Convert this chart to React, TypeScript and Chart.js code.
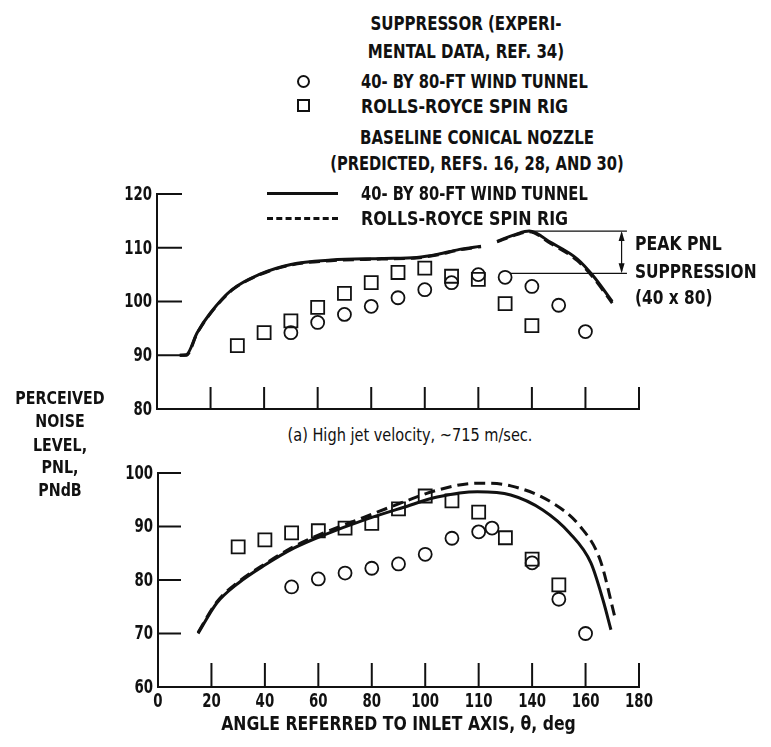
import React, { useEffect, useRef } from "react";
import { Chart, registerables } from "chart.js";

Chart.register(...registerables);

const FONT = "'Liberation Sans Narrow', 'DejaVu Sans Condensed', 'Arial Narrow', sans-serif";
const INK = "#111111";

// ---- axes ----
const angleTicks = [0, 20, 40, 60, 80, 100, 120, 140, 160, 180];
const angleTickLabels = ["0", "20", "40", "60", "80", "100", "110", "140", "160", "180"];
const angleTitle = "ANGLE REFERRED TO INLET AXIS, θ, deg";

// ---- (a) high jet velocity ----
const topCircleAngles = [50, 60, 70, 80, 90, 100, 110, 120, 130, 140, 150, 160];
const topCircleValues = [94.2, 96.1, 97.6, 99.1, 100.7, 102.2, 103.5, 105.0, 104.5, 102.8, 99.3, 94.4];

const topSquareAngles = [30, 40, 50, 60, 70, 80, 90, 100, 110, 120, 130, 140];
const topSquareValues = [91.8, 94.2, 96.4, 98.9, 101.5, 103.5, 105.4, 106.2, 104.7, 104.1, 99.6, 95.5];

const topSolidAngles = [8.5, 11, 15, 20, 28, 38, 50, 65, 84, 97, 105, 113, 121, 124, 127, 134, 139, 147, 157, 163, 170];
const topSolidValues = [90, 90.1, 94.2, 97.9, 102.2, 105.0, 106.9, 107.7, 108.0, 108.2, 108.8, 109.7, 110.3, null, 111.2, 112.5, 113.1, 111.0, 107.9, 104.7, 100.0];

const topDashedAngles = [8.5, 11, 15, 20, 28, 38, 50, 65, 84, 97, 105, 113, 121, 124, 127, 134, 139, 147, 157, 163, 170];
const topDashedValues = [90, 90.0, 94.1, 97.8, 102.1, 104.9, 106.8, 107.6, 107.9, 108.1, 108.7, 109.6, 110.2, null, 111.1, 112.4, 113.0, 110.8, 107.6, 104.4, 99.7];

const peakValue = 113.1;
const suppressedPeakValue = 105.25;

// ---- lower panel ----
const botCircleAngles = [50, 60, 70, 80, 90, 100, 110, 120, 125, 140, 150, 160];
const botCircleValues = [78.7, 80.2, 81.3, 82.2, 83.0, 84.8, 87.8, 89.0, 89.7, 83.2, 76.4, 70.0];

const botSquareAngles = [30, 40, 50, 60, 70, 80, 90, 100, 110, 120, 130, 140, 150];
const botSquareValues = [86.2, 87.5, 88.8, 89.2, 89.7, 90.6, 93.3, 95.7, 94.8, 92.7, 87.9, 83.9, 79.1];

const botSolidAngles = [15, 22, 30, 40, 51, 62, 77, 92, 104.5, 119.5, 132, 144, 154, 162, 166.5, 169.5];
const botSolidValues = [70.0, 75.7, 79.4, 82.8, 86.0, 88.4, 91.2, 93.6, 95.5, 96.5, 95.9, 93.1, 88.8, 83.2, 76.3, 70.7];

const botDashedAngles = [15, 22, 30, 40, 51, 62, 77, 92, 104.5, 119.5, 132, 147, 158, 165.5, 171];
const botDashedValues = [70.2, 75.9, 79.6, 83.0, 86.3, 88.8, 91.7, 94.6, 96.8, 98.1, 97.6, 94.6, 90.0, 83.7, 73.0];

function pts(xs: number[], ys: (number | null)[]) {
  return xs.map((x, i) => ({ x, y: ys[i] }));
}

function inwardTicks(xLen: number, yLen: number) {
  return {
    id: "inwardTicks",
    afterDatasetsDraw(chart: any) {
      const { ctx, chartArea } = chart;
      const x = chart.scales.x;
      const y = chart.scales.y;
      ctx.save();
      ctx.strokeStyle = INK;
      ctx.lineWidth = 2;
      x.ticks.forEach((t: any) => {
        if (t.value === x.min) return;
        const px = x.getPixelForValue(t.value);
        ctx.beginPath();
        ctx.moveTo(px, chartArea.bottom);
        ctx.lineTo(px, chartArea.bottom - xLen);
        ctx.stroke();
      });
      y.ticks.forEach((t: any) => {
        if (t.value === y.min) return;
        const py = y.getPixelForValue(t.value);
        ctx.beginPath();
        ctx.moveTo(chartArea.left, py);
        ctx.lineTo(chartArea.left + yLen, py);
        ctx.stroke();
      });
      ctx.restore();
    },
  };
}

// draws the scale's tick labels (and x title) in a horizontally condensed face
function narrowLabels(showX: boolean) {
  return {
    id: "narrowLabels",
    afterDraw(chart: any) {
      const { ctx, chartArea } = chart;
      const x = chart.scales.x;
      const y = chart.scales.y;
      ctx.save();
      ctx.fillStyle = INK;
      ctx.font = "bold 19px " + FONT;
      ctx.textBaseline = "middle";
      y.ticks.forEach((t: any) => {
        const py = y.getPixelForValue(t.value);
        ctx.save();
        ctx.translate(chartArea.left - 5, py + 1);
        ctx.scale(0.78, 1);
        ctx.textAlign = "right";
        ctx.fillText(String(t.value), 0, 0);
        ctx.restore();
      });
      if (showX) {
        x.ticks.forEach((t: any) => {
          const i = angleTicks.indexOf(Number(t.value));
          if (i < 0) return;
          const px = x.getPixelForValue(t.value);
          ctx.save();
          ctx.translate(px, chartArea.bottom + 15);
          ctx.scale(0.78, 1);
          ctx.textAlign = "center";
          ctx.fillText(angleTickLabels[i], 0, 0);
          ctx.restore();
        });
        ctx.save();
        ctx.font = "bold 20px " + FONT;
        ctx.translate((x.left + x.right) / 2, chartArea.bottom + 38);
        ctx.scale(0.87, 1);
        ctx.textAlign = "center";
        ctx.fillText(angleTitle, 0, 0);
        ctx.restore();
      }
      ctx.restore();
    },
  };
}

const suppressionMarker = {
  id: "suppressionMarker",
  afterDatasetsDraw(chart: any) {
    const { ctx } = chart;
    const x = chart.scales.x;
    const y = chart.scales.y;
    const yTop = y.getPixelForValue(peakValue);
    const yBot = y.getPixelForValue(suppressedPeakValue);
    const xr = x.getPixelForValue(175.5);
    const xa = x.getPixelForValue(173.5);
    ctx.save();
    ctx.strokeStyle = INK;
    ctx.fillStyle = INK;
    ctx.lineWidth = 1.2;
    ctx.beginPath();
    ctx.moveTo(x.getPixelForValue(139.3), yTop);
    ctx.lineTo(xr, yTop);
    ctx.moveTo(x.getPixelForValue(131.8), yBot);
    ctx.lineTo(xr, yBot);
    ctx.moveTo(xa, yTop + 2);
    ctx.lineTo(xa, yBot - 2);
    ctx.stroke();
    ctx.beginPath();
    ctx.moveTo(xa, yTop);
    ctx.lineTo(xa - 3, yTop + 10);
    ctx.lineTo(xa + 3, yTop + 10);
    ctx.closePath();
    ctx.moveTo(xa, yBot);
    ctx.lineTo(xa - 3, yBot - 10);
    ctx.lineTo(xa + 3, yBot - 10);
    ctx.closePath();
    ctx.fill();
    ctx.restore();
  },
};

function lineDs(data: any[], dashed: boolean) {
  return {
    type: "line" as const,
    data,
    showLine: true,
    borderColor: INK,
    borderWidth: 3,
    borderDash: dashed ? [11, 6] : [],
    pointRadius: 0,
    fill: false,
    spanGaps: false,
    cubicInterpolationMode: "monotone" as const,
  };
}

function circleDs(data: any[]) {
  return {
    type: "scatter" as const,
    data,
    pointStyle: "circle",
    pointRadius: 6.5,
    pointBorderWidth: 1.8,
    pointBorderColor: INK,
    pointBackgroundColor: "rgba(255,255,255,0)",
  };
}

function squareDs(data: any[]) {
  return {
    type: "scatter" as const,
    data,
    pointStyle: "rect",
    pointRadius: 9.2,
    pointBorderWidth: 1.8,
    pointBorderColor: INK,
    pointBackgroundColor: "rgba(255,255,255,0)",
  };
}

function makeConfig(opts: {
  yMin: number;
  yMax: number;
  yWidth: number;
  padding: any;
  xLabels: boolean;
  datasets: any[];
  plugins: any[];
}) {
  return {
    type: "scatter" as const,
    data: { datasets: opts.datasets },
    options: {
      animation: false as const,
      responsive: false,
      devicePixelRatio: 1,
      layout: { padding: opts.padding },
      plugins: { legend: { display: false }, tooltip: { enabled: false }, title: { display: false } },
      scales: {
        x: {
          type: "linear" as const,
          min: 0,
          max: 180,
          afterBuildTicks: (s: any) => {
            s.ticks = angleTicks.map((v) => ({ value: v }));
          },
          ticks: { display: false },
          grid: { display: true, drawOnChartArea: false, drawTicks: false },
          border: { display: true, color: INK, width: 2 },
          afterFit: (s: any) => {
            s.height = opts.xLabels ? 60 : 0;
          },
        },
        y: {
          type: "linear" as const,
          min: opts.yMin,
          max: opts.yMax,
          ticks: { display: false, stepSize: 10 },
          grid: { display: true, drawOnChartArea: false, drawTicks: false },
          border: { display: true, color: INK, width: 2 },
          afterFit: (s: any) => {
            s.width = opts.yWidth;
          },
        },
      },
    },
    plugins: opts.plugins,
  };
}

function PanelChart(props: { width: number; height: number; config: () => any; left: number; top: number }) {
  const ref = useRef<HTMLCanvasElement | null>(null);
  useEffect(() => {
    if (!ref.current) return;
    const chart = new Chart(ref.current, props.config());
    return () => chart.destroy();
  }, []);
  return (
    <canvas
      ref={ref}
      width={props.width}
      height={props.height}
      style={{ position: "absolute", left: props.left, top: props.top, width: props.width, height: props.height }}
    />
  );
}

const textBase: React.CSSProperties = {
  position: "absolute",
  whiteSpace: "nowrap",
  fontFamily: FONT,
  fontWeight: "bold",
  fontSize: 19,
  color: INK,
  lineHeight: "20px",
};

function CText(props: { x: number; y: number; children: any; size?: number; sx?: number; weight?: string }) {
  return (
    <div
      style={{
        ...textBase,
        left: props.x,
        top: props.y,
        transform: `translate(-50%, -50%) scaleX(${props.sx ?? 0.88})`,
        fontSize: props.size ?? 19,
        fontWeight: props.weight ?? "bold",
      }}
    >
      {props.children}
    </div>
  );
}

function LText(props: { x: number; y: number; children: any; size?: number; sx?: number }) {
  return (
    <div
      style={{
        ...textBase,
        left: props.x,
        top: props.y,
        transformOrigin: "left center",
        transform: `translate(0, -50%) scaleX(${props.sx ?? 0.88})`,
        fontSize: props.size ?? 19,
      }}
    >
      {props.children}
    </div>
  );
}

export default function App() {
  const topConfig = () =>
    makeConfig({
      yMin: 80,
      yMax: 120,
      yWidth: 57,
      padding: { top: 14, right: 21, bottom: 11, left: 0 },
      xLabels: false,
      datasets: [
        lineDs(pts(topDashedAngles, topDashedValues), true),
        lineDs(pts(topSolidAngles, topSolidValues), false),
        squareDs(pts(topSquareAngles, topSquareValues)),
        circleDs(pts(topCircleAngles, topCircleValues)),
      ],
      plugins: [inwardTicks(22, 25), suppressionMarker, narrowLabels(false)],
    });

  const botConfig = () =>
    makeConfig({
      yMin: 60,
      yMax: 100,
      yWidth: 58,
      padding: { top: 13, right: 21, bottom: 0, left: 0 },
      xLabels: true,
      datasets: [
        lineDs(pts(botDashedAngles, botDashedValues), true),
        lineDs(pts(botSolidAngles, botSolidValues), false),
        squareDs(pts(botSquareAngles, botSquareValues)),
        circleDs(pts(botCircleAngles, botCircleValues)),
      ],
      plugins: [inwardTicks(24, 23), narrowLabels(true)],
    });

  return (
    <div style={{ position: "absolute", left: 0, top: 0, width: 771, height: 747, background: "#fff", overflow: "hidden" }}>
      <PanelChart left={100} top={180} width={560} height={240} config={topConfig} />
      <PanelChart left={100} top={460} width={560} height={287} config={botConfig} />

      <CText x={466} y={23}>SUPPRESSOR (EXPERI-</CText>
      <CText x={466} y={51}>MENTAL DATA, REF. 34)</CText>

      <div style={{ position: "absolute", left: 297, top: 75, width: 9, height: 9, border: "2px solid " + INK, borderRadius: "50%" }} />
      <LText x={361} y={81} sx={0.86}>40- BY 80-FT WIND TUNNEL</LText>
      <div style={{ position: "absolute", left: 297, top: 99, width: 9, height: 9, border: "2px solid " + INK }} />
      <LText x={361} y={106} sx={0.93}>ROLLS-ROYCE SPIN RIG</LText>

      <CText x={477} y={137}>BASELINE CONICAL NOZZLE</CText>
      <CText x={477} y={163} sx={0.86}>(PREDICTED, REFS. 16, 28, AND 30)</CText>

      <div style={{ position: "absolute", left: 267, top: 192, width: 71, height: 0, borderTop: "3px solid " + INK }} />
      <LText x={361} y={193} sx={0.86}>40- BY 80-FT WIND TUNNEL</LText>
      <div style={{ position: "absolute", left: 267, top: 217, width: 71, height: 0, borderTop: "3px dashed " + INK }} />
      <LText x={361} y={218} sx={0.93}>ROLLS-ROYCE SPIN RIG</LText>

      <LText x={635} y={243} sx={0.92}>PEAK PNL</LText>
      <LText x={635} y={271} sx={0.9}>SUPPRESSION</LText>
      <LText x={635} y={297} sx={0.9}>(40 x 80)</LText>

      <CText x={410} y={435} size={17} sx={0.95} weight="normal">(a) High jet velocity, ~715 m/sec.</CText>

      <CText x={60} y={398} size={18}>PERCEIVED</CText>
      <CText x={60} y={421} size={18}>NOISE</CText>
      <CText x={60} y={445} size={18}>LEVEL,</CText>
      <CText x={60} y={467} size={18}>PNL,</CText>
      <CText x={60} y={490} size={18}>PNdB</CText>
    </div>
  );
}
